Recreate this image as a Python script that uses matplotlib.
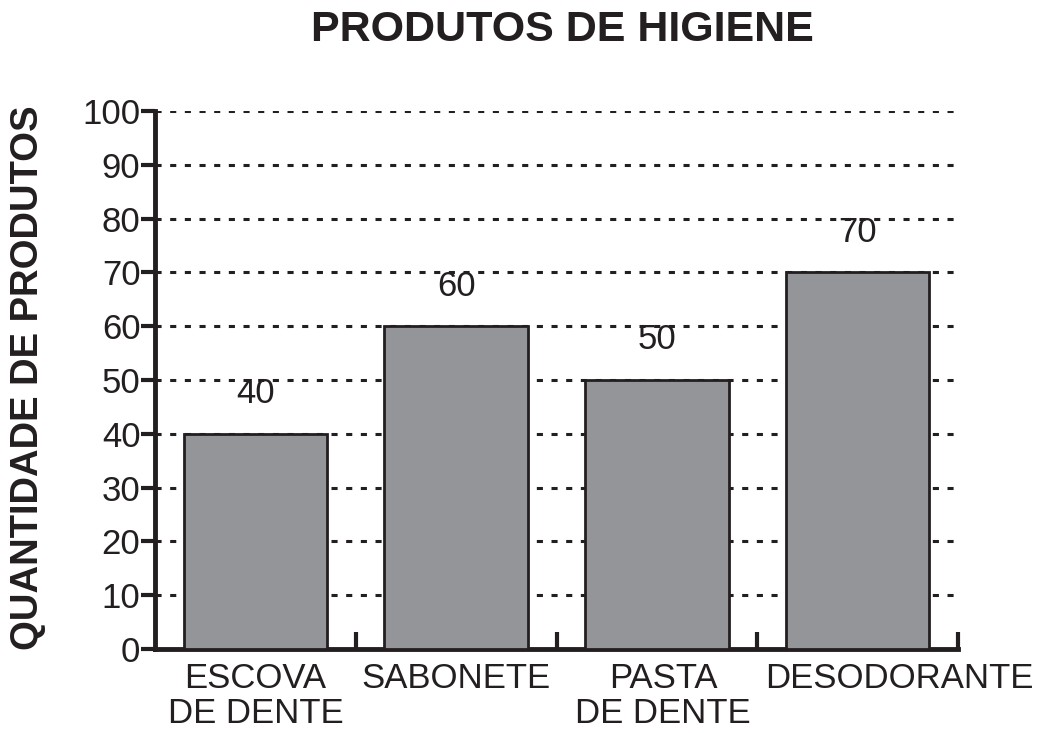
import matplotlib
matplotlib.use("Agg")
import matplotlib.pyplot as plt
import numpy as np

categories = ["ESCOVA\nDE DENTE", "SABONETE", "PASTA\nDE DENTE", "DESODORANTE"]
values = [40, 60, 50, 70]
yticks = [0, 10, 20, 30, 40, 50, 60, 70, 80, 90, 100]
title = "PRODUTOS DE HIGIENE"
ylabel = "QUANTIDADE DE PRODUTOS"

ink = "#231f20"
bar_color = "#939598"

plt.rcParams["font.family"] = ["Liberation Sans", "DejaVu Sans"]

fig = plt.figure(figsize=(10.38, 7.33), dpi=100)
ax = fig.add_axes([155/1038, 1-649/733, (958-155)/1038, (649-111)/733])

x = np.arange(len(categories))
ax.bar(x, values, width=0.716, color=bar_color, edgecolor=ink, linewidth=2.0, zorder=3)

for xi, v in zip(x, values):
    ax.annotate(str(v), (xi, v), xytext=(0, 17), textcoords="offset points",
                ha="center", va="bottom", fontsize=25, color=ink)

ax.set_xlim(-0.5, len(categories) - 0.5)
ax.set_ylim(0, 100)
ax.set_yticks(yticks)
ax.set_yticklabels([str(t) for t in yticks])
ax.set_xticks(x)
ax.set_xticklabels([])
ax.set_xticks(np.arange(len(categories)) + 0.5, minor=True)

# category labels (the reference nudges the last ones right to avoid overlap)
label_shift_px = [0, 0, 6, 42]
for xi, lab, dx in zip(x, categories, label_shift_px):
    ax.annotate(lab, (xi, 0), xycoords=("data", "axes fraction"),
                xytext=(dx * 0.72, -9), textcoords="offset points",
                ha="center", va="top", multialignment="center",
                fontsize=25, color=ink, linespacing=1.1, annotation_clip=False)

ax.tick_params(axis="x", which="major", length=0)
ax.tick_params(axis="x", which="minor", direction="in", length=12, width=3, color=ink)
ax.tick_params(axis="y", which="major", direction="out", length=10, width=3, color=ink,
               labelsize=25, labelcolor=ink, pad=0.5)

for t in yticks[1:]:
    ax.axhline(t, color=ink, linewidth=2.2, linestyle=(0, (2, 2.8)), zorder=1)

for s in ["top", "right"]:
    ax.spines[s].set_visible(False)
for s in ["left", "bottom"]:
    ax.spines[s].set_linewidth(3.5)
    ax.spines[s].set_color(ink)

fig.text(562/1038, 1-30/733, title, ha="center", va="center", fontsize=31,
         fontweight="bold", color=ink)
fig.text(28/1038, 1-378/733, ylabel, ha="center", va="center", rotation=90,
         fontsize=27.5, fontweight="bold", color=ink)

fig.savefig("out.png", dpi=100)
